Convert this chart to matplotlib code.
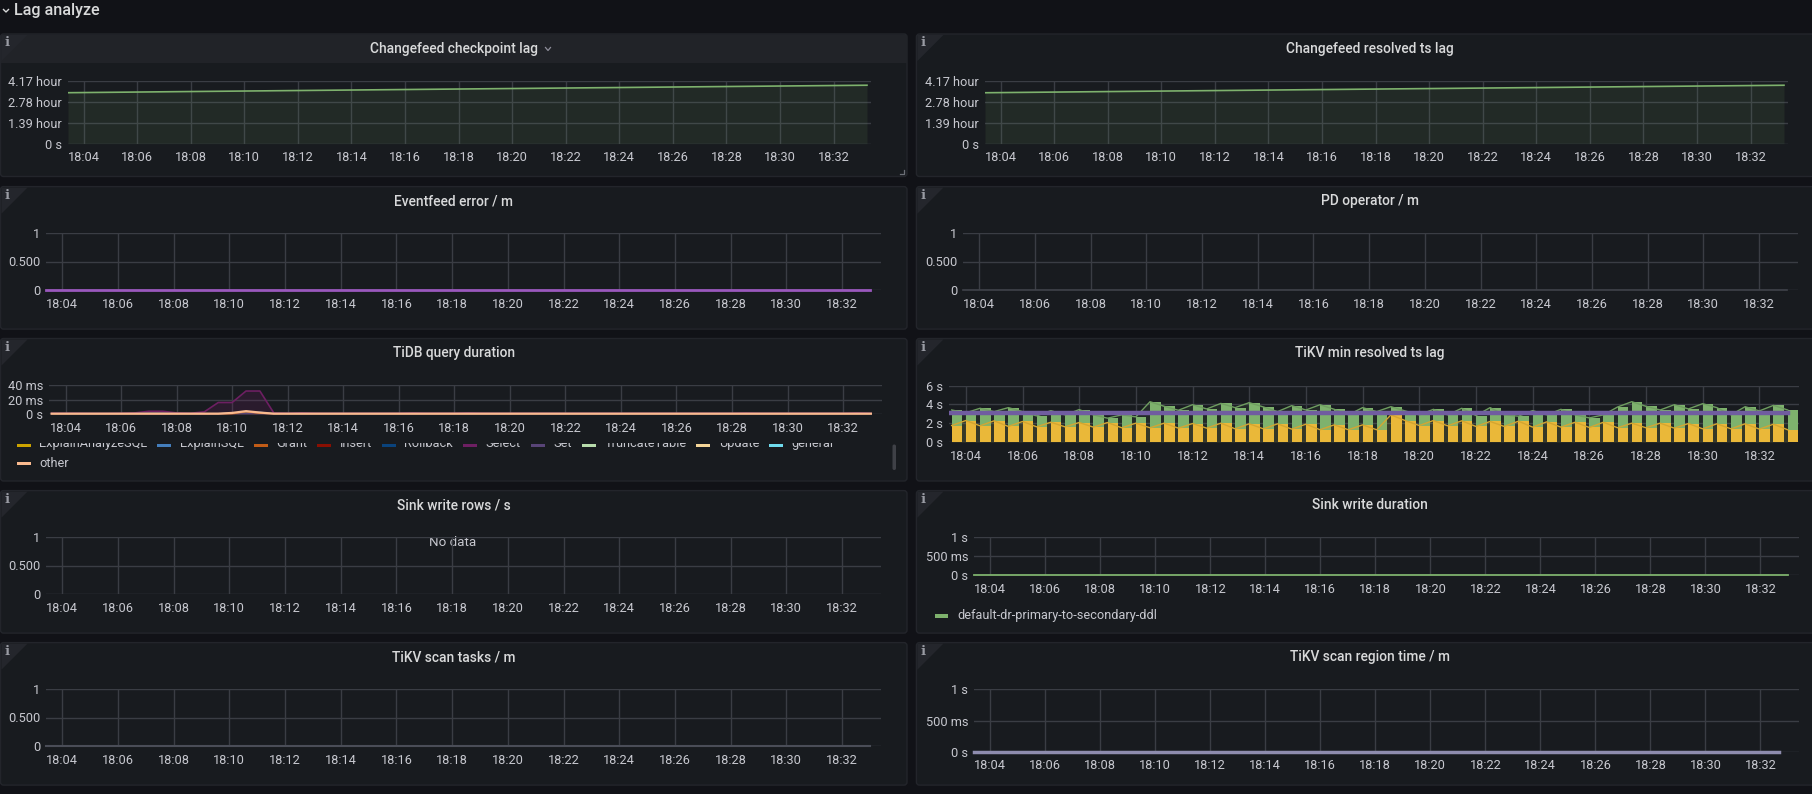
import datetime as dt
import matplotlib
matplotlib.use('Agg')
import matplotlib.pyplot as plt
import matplotlib.dates as mdates
from matplotlib.patches import FancyBboxPatch, Rectangle, Polygon

plt.rcParams['font.family'] = ['Roboto', 'DejaVu Sans']

W, H = 1812, 794
BG = '#111217'
PANEL = '#181b1f'
BORDER = '#23252b'
GRID = '#3a3d44'
TICK = '#c7c8cf'
TITLE = '#d8d9da'


def tm(s):
    h, m, sec = (s.split(':') + ['0'])[:3]
    return dt.datetime(2024, 1, 1, int(h), int(m), int(sec))


T0, T1 = tm('18:03:25'), tm('18:33:24')

# ---- data ----
checkpoint_times = ['18:03:25', '18:08:00', '18:13:00', '18:18:00', '18:23:00', '18:28:00', '18:33:15']
checkpoint_lag = [12200, 12480, 12780, 13080, 13380, 13680, 13990]      # seconds
resolved_times = ['18:03:25', '18:08:00', '18:13:00', '18:18:00', '18:23:00', '18:28:00', '18:33:15']
resolved_lag = [12190, 12470, 12770, 13070, 13370, 13670, 13985]

zero_times = ['18:03:25', '18:33:00']
zero_vals = [0, 0]

# TiDB query duration (ms), one point every 30 s from 18:03:30
tidb_start = '18:03:30'
select_ms = [1.0, 1.0, 1.0, 0.8, 0.8, 1.0, 1.5, 3.8, 3.8, 1.5,
             1.0, 3.0, 16.0, 16.0, 32.0, 32.0, 1.5, 1.0, 1.6, 1.0,
             0.9, 0.9, 0.9, 0.9, 0.9, 1.0, 1.4, 1.0, 1.0, 1.0,
             1.5, 1.0, 0.9, 0.9, 0.9, 0.9, 0.9, 0.9, 0.9, 0.9,
             0.9, 0.9, 0.9, 0.9, 0.9, 0.9, 0.9, 0.9, 0.9, 0.9,
             1.3, 0.9, 0.9, 0.9, 0.9, 0.9, 0.9, 0.9, 1.4, 0.9]
other_times = ['18:03:30', '18:09:30', '18:10:00', '18:10:30', '18:11:00', '18:11:30', '18:33:00']
other_ms = [0.5, 0.5, 1.5, 4.0, 2.0, 0.5, 0.5]
grant_times = ['18:03:30', '18:10:00', '18:10:30', '18:11:00', '18:11:30', '18:33:00']
grant_ms = [0.3, 0.3, 3.0, 1.0, 0.3, 0.3]
explain_times = ['18:03:30', '18:09:30', '18:10:00', '18:10:30', '18:11:00', '18:11:30', '18:33:00']
explain_ms = [0.2, 0.2, 1.5, 2.5, 2.5, 0.2, 0.2]
set_times = ['18:03:30', '18:06:30', '18:07:00', '18:07:30', '18:08:00', '18:33:00']
set_ms = [0.6, 0.6, 1.5, 1.5, 0.6, 0.6]

tidb_legend = ['ExplainAnalyzeSQL', 'ExplainSQL', 'Grant', 'Insert', 'Rollback',
               'Select', 'Set', 'TruncateTable', 'Update', 'general']
tidb_colors = ['#CCA300', '#447EBC', '#C15C17', '#890F02', '#0A437C',
               '#6D1F62', '#584477', '#B7DBAB', '#F4D598', '#70DBED']
other_color = '#F9BA8F'

# TiKV min resolved ts lag (s), one bar every 30 s from 18:03:30
tikv_start = '18:03:30'
tikv_green = [3.40, 3.10, 3.58, 3.23, 3.65, 3.23, 2.77, 3.33, 2.88, 3.44,
              2.88, 2.53, 2.88, 2.67, 4.28, 3.79, 3.37, 3.96, 3.51, 4.10,
              3.65, 4.18, 3.72, 3.23, 3.86, 3.40, 3.96, 3.47, 2.88, 3.65,
              3.23, 3.75, 3.30, 2.88, 3.47, 2.88, 3.58, 2.81, 3.65, 2.88,
              2.74, 3.33, 2.88, 3.47, 2.88, 2.56, 2.88, 3.72, 4.28, 3.79,
              3.40, 3.96, 3.51, 4.07, 3.65, 2.88, 3.75, 3.30, 3.89, 3.40]
tikv_yellow = [1.75, 2.28, 1.72, 2.25, 1.65, 2.18, 1.61, 2.10, 1.61, 2.07,
               1.58, 2.07, 1.51, 2.00, 1.51, 2.00, 1.47, 1.96, 1.47, 2.00,
               1.40, 1.93, 1.40, 1.93, 1.37, 1.89, 1.30, 1.82, 1.30, 1.82,
               1.30, 2.88, 2.28, 1.75, 2.28, 1.72, 2.25, 1.65, 2.18, 1.65,
               2.21, 1.58, 2.14, 1.58, 2.10, 1.54, 2.10, 1.51, 2.00, 1.51,
               2.00, 1.47, 1.96, 1.40, 1.93, 1.40, 1.93, 1.37, 1.89, 1.30]
tikv_purple_times = ['18:03:25', '18:33:00']
tikv_purple = [3.05, 3.05]

sink_legend = 'default-dr-primary-to-secondary-ddl'

# ---- figure / canvas in pixel coordinates ----
fig = plt.figure(figsize=(W / 100, H / 100), dpi=100, facecolor=BG)
cv = fig.add_axes([0, 0, 1, 1], zorder=0)
cv.set_xlim(0, W)
cv.set_ylim(H, 0)
cv.axis('off')


def rect(l, t, r, b):
    return [l / W, 1 - b / H, (r - l) / W, (b - t) / H]


PANEL_TOPS = [34, 186.6, 338.5, 490.6, 642.6]
PANEL_H = 142.5
COLS = [(0.5, 907), (916.4, 1830)]


def panel(col, row, title, hover=False):
    l, r = COLS[col]
    t = PANEL_TOPS[row]
    cv.add_patch(FancyBboxPatch((l, t), r - l, PANEL_H,
                                boxstyle='round,pad=0,rounding_size=3',
                                fc=PANEL, ec=BORDER, lw=1))
    if hover:
        cv.add_patch(Rectangle((l + 0.5, t + 0.5), r - l - 1, 28.5, fc='#212328', lw=0))
    cv.add_patch(Polygon([(l + 1, t + 1), (l + 27, t + 1), (l + 1, t + 27)],
                         closed=True, fc='#24262c', lw=0))
    cv.text(l + 6.5, t + 9, 'i', ha='center', va='center', fontsize=9.5,
            family='DejaVu Serif', fontweight='bold', color='#9a9ca4')
    cv.text((l + min(r, 1823)) / 2, t + 14.5, title, ha='center', va='center',
            fontsize=9.9, fontweight='medium', color=TITLE)


def plot_axes(l, t, r, b, ylim, yticks, ylabels):
    ax = fig.add_axes(rect(l, t, r, b), zorder=1)
    ax.set_facecolor('none')
    ax.set_xlim(T0, T1)
    ax.set_ylim(*ylim)
    ax.set_yticks(yticks)
    ax.set_yticklabels(ylabels)
    ax.xaxis.set_major_locator(mdates.MinuteLocator(byminute=range(0, 60, 2)))
    ax.xaxis.set_major_formatter(mdates.DateFormatter('%H:%M'))
    ax.tick_params(axis='both', length=0, colors=TICK, labelsize=9.2)
    ax.tick_params(axis='x', pad=5.5)
    ax.tick_params(axis='y', pad=4.3)
    for s in ax.spines.values():
        s.set_visible(False)
    ax.grid(True, color=GRID, lw=1)
    ax.set_axisbelow(True)
    return ax


def times(lst):
    return [tm(s) for s in lst]


def series_times(start, n):
    t0 = tm(start)
    return [t0 + dt.timedelta(seconds=30 * k) for k in range(n)]


# section header
cv.plot([3.5, 6, 8.5], [9.5, 12, 9.5], color=TITLE, lw=1)
cv.text(14, 11, 'Lag analyze', ha='left', va='center', fontsize=11.6,
        fontweight='medium', color=TITLE)

UNIT01 = ([0, 0.5, 1], ['0', '0.500', '1'])
UNITS = ([0, 0.5, 1], ['0 s', '500 ms', '1 s'])
HOURS = ([0, 5000, 10000, 15000], ['0 s', '1.39 hour', '2.78 hour', '4.17 hour'])

# row 1
panel(0, 0, 'Changefeed checkpoint lag', hover=True)
cv.plot([545.5, 548, 550.5], [47.5, 50.5, 47.5], color='#8e8e9a', lw=0.9)
cv.plot([903.5, 903.5, 900], [170, 173.5, 173.5], color='#6c6f77', lw=0.9)
ax = plot_axes(68, 81, 871, 143.7, (0, 15000), *HOURS)
ax.plot(times(checkpoint_times), checkpoint_lag, color='#7EB26D', lw=1.2)
ax.fill_between(times(checkpoint_times), checkpoint_lag, 0, color='#7EB26D', alpha=0.1, lw=0)

panel(1, 0, 'Changefeed resolved ts lag')
ax = plot_axes(985, 81, 1788, 143.7, (0, 15000), *HOURS)
ax.plot(times(resolved_times), resolved_lag, color='#7EB26D', lw=1.2)
ax.fill_between(times(resolved_times), resolved_lag, 0, color='#7EB26D', alpha=0.1, lw=0)

# row 2
panel(0, 1, 'Eventfeed error / m')
ax = plot_axes(46, 233, 881, 290, (0, 1), *UNIT01)
ax.plot(times(zero_times), zero_vals, color='#9a58bd', lw=2, clip_on=False)

panel(1, 1, 'PD operator / m')
ax = plot_axes(963, 233, 1798, 290, (0, 1), *UNIT01)
ax.plot(times(zero_times), zero_vals, color='#3f424a', lw=1.2, clip_on=False)

# row 3 - TiDB query duration
panel(0, 2, 'TiDB query duration')
ax = plot_axes(49.3, 385.3, 882, 414, (0, 40), [0, 20, 40], ['0 s', '20 ms', '40 ms'])
tidb_t = series_times(tidb_start, len(select_ms))
ax.fill_between(tidb_t, select_ms, 0, color='#6D1F62', alpha=0.22, lw=0)
ax.plot(tidb_t, select_ms, color='#6D1F62', lw=1.2, clip_on=False)
for tt, vv, c in [(set_times, set_ms, '#584477'), (explain_times, explain_ms, '#447EBC'),
                  (grant_times, grant_ms, '#C15C17'), (other_times, other_ms, other_color)]:
    ax.fill_between(times(tt), vv, 0, color=c, alpha=0.12, lw=0)
    ax.plot(times(tt), vv, color=c, lw=1.6 if c == other_color else 1.0, clip_on=False)

# clipped legend (scrolled list)
leg = fig.add_axes(rect(0, 442.5, 905, 479), zorder=2)
leg.set_facecolor('none')
leg.set_xlim(0, 905)
leg.set_ylim(479, 442.5)
leg.axis('off')
renderer = fig.canvas.get_renderer()
x = 16.7
for name, c in zip(tidb_legend, tidb_colors):
    leg.add_patch(Rectangle((x, 443.5), 14, 3.5, fc=c, lw=0, clip_on=True))
    txt = leg.text(x + 22.5, 443.5, name, ha='left', va='center', fontsize=9.2,
                   color=TICK, clip_on=True)
    x = txt.get_window_extent(renderer).x1 + 10
leg.add_patch(Rectangle((16.7, 461.5), 14, 3.5, fc=other_color, lw=0))
leg.text(39.2, 463.2, 'other', ha='left', va='center', fontsize=9.2, color=TICK)
cv.add_patch(FancyBboxPatch((892.5, 444.5), 3.5, 25.5, boxstyle='round,pad=0,rounding_size=1.7',
                            fc='#3f4147', lw=0))

# row 3 - TiKV min resolved ts lag
panel(1, 2, 'TiKV min resolved ts lag')
ax = plot_axes(949.3, 385.5, 1799, 442, (0, 6), [0, 2, 4, 6], ['0 s', '2 s', '4 s', '6 s'])
tikv_t = series_times(tikv_start, len(tikv_green))
bw = 22.5 / 86400
ax.fill_between(tikv_t, tikv_green, 0, color='#7EB26D', alpha=0.1, lw=0)
ax.bar(tikv_t, tikv_green, width=bw, align='edge', color='#7EB26D', lw=0)
ax.plot(tikv_t, tikv_green, color='#6f9e60', lw=1)
ax.fill_between(tikv_t, tikv_yellow, 0, color='#EAB839', alpha=0.1, lw=0)
ax.bar(tikv_t, tikv_yellow, width=bw, align='edge', color='#EAB839', lw=0)
ax.plot(tikv_t, tikv_yellow, color='#d4a631', lw=1)
ax.plot(times(tikv_purple_times), tikv_purple, color='#705DA0', lw=3.2)

# row 4
panel(0, 3, 'Sink write rows / s')
ax = plot_axes(46, 537, 881, 594, (0, 1), *UNIT01)
cv.text(453, 542, 'No data', ha='center', va='center', fontsize=9.6, color=TICK)

panel(1, 3, 'Sink write duration')
ax = plot_axes(974.2, 537.3, 1799, 575, (0, 1), *UNITS)
ax.plot(times(zero_times), zero_vals, color='#7EB26D', lw=1.3, clip_on=False)
cv.add_patch(Rectangle((935, 614.3), 13, 3.5, fc='#7EB26D', lw=0))
cv.text(957, 616, sink_legend, ha='left', va='center', fontsize=9.2, color=TICK)

# row 5
panel(0, 4, 'TiKV scan tasks / m')
ax = plot_axes(46, 689, 881, 746, (0, 1), *UNIT01)
ax.plot(times(zero_times), zero_vals, color='#4a4d57', lw=1.5, clip_on=False)

panel(1, 4, 'TiKV scan region time / m')
ax = plot_axes(974, 689.3, 1799, 751.7, (0, 1), *UNITS)
ax.plot(times(['18:03:25', '18:32:40']), zero_vals, color='#8e8cae', lw=2.5, clip_on=False)

fig.savefig('out.png', dpi=100, facecolor=BG)
